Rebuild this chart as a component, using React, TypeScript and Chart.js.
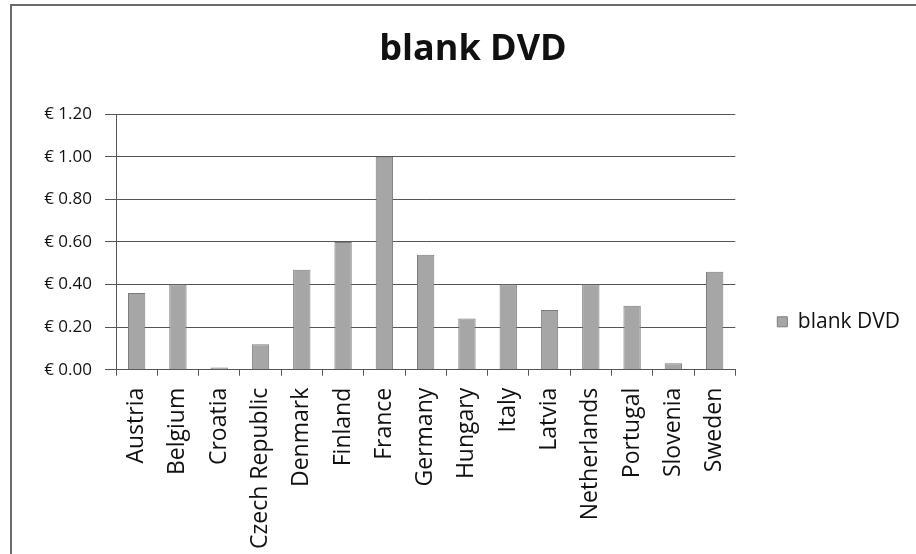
import React, { useEffect, useRef } from "react";
import { Chart, registerables } from "chart.js";

Chart.register(...registerables);

const countries = [
  "Austria", "Belgium", "Croatia", "Czech Republic", "Denmark", "Finland", "France",
  "Germany", "Hungary", "Italy", "Latvia", "Netherlands", "Portugal", "Slovenia", "Sweden",
];
const blankDvd = [0.36, 0.40, 0.01, 0.12, 0.47, 0.60, 1.00, 0.54, 0.24, 0.40, 0.28, 0.40, 0.30, 0.03, 0.46];
const seriesName = "blank DVD";
const chartTitle = "blank DVD";
const yMin = 0;
const yMax = 1.2;
const yStep = 0.2;

export default function App() {
  const ref = useRef<HTMLCanvasElement | null>(null);

  useEffect(() => {
    document.body.style.margin = "0";
    const ctx = ref.current!.getContext("2d")!;
    const axisColor = "#555555";
    const chart = new Chart(ctx, {
      type: "bar",
      data: {
        labels: countries,
        datasets: [
          {
            label: seriesName,
            data: blankDvd,
            backgroundColor: "#a6a6a6",
            borderColor: "#7c7c7c",
            borderWidth: 1,
            categoryPercentage: 1,
            barPercentage: 0.42,
            yAxisID: "y",
          },
        ],
      },
      options: {
        animation: false,
        responsive: false,
        maintainAspectRatio: false,
        layout: { padding: { left: 36, right: 6, top: 0, bottom: 0 } },
        plugins: {
          title: {
            display: true,
            text: chartTitle,
            color: "#111",
            font: { family: "Open Sans", size: 36, weight: "bold" },
            padding: { top: 28, bottom: 43 },
          },
          legend: {
            position: "right",
            align: "center",
            title: {
              display: true,
              text: " ",
              font: { size: 8 },
              padding: { top: 80, bottom: 0 },
            },
            labels: {
              boxWidth: 10,
              boxHeight: 10,
              padding: 10,
              color: "#111",
              font: { family: "Open Sans", size: 21 },
            },
          },
          tooltip: { enabled: false },
        },
        scales: {
          x: {
            grid: {
              display: true,
              drawOnChartArea: false,
              drawTicks: true,
              tickLength: 6,
              offset: true,
              color: axisColor,
            },
            border: { display: true, color: axisColor, width: 1 },
            ticks: {
              minRotation: 90,
              maxRotation: 90,
              autoSkip: false,
              padding: 12,
              color: "#111",
              font: { family: "Open Sans", size: 23 },
            },
            afterFit: (scale: any) => {
              scale.height = scale.height - 7;
            },
          },
          y: {
            min: yMin,
            max: yMax,
            grid: {
              color: axisColor,
              lineWidth: 1,
              drawTicks: true,
              tickLength: 11,
            },
            border: { display: true, color: axisColor, width: 1 },
            ticks: {
              stepSize: yStep,
              padding: 13,
              color: "#111",
              font: { family: "Open Sans", size: 17 },
              callback: (v: any) => "€ " + Number(v).toFixed(2),
            },
            afterFit: (scale: any) => {
              scale.width = 80;
            },
          },
          y2: {
            position: "right",
            display: true,
            grid: { display: false, drawTicks: false },
            border: { display: false },
            ticks: { display: false },
            afterFit: (scale: any) => {
              scale.width = 32;
            },
          },
        },
      },
    });
    return () => chart.destroy();
  }, []);

  return (
    <div style={{ position: "absolute", left: 0, top: 0, width: 916, height: 554, background: "#fff" }}>
      <div
        style={{
          position: "absolute",
          left: 10,
          top: 4,
          right: 0,
          bottom: 0,
          borderLeft: "2px solid #6a6a6a",
          borderTop: "2px solid #6a6a6a",
        }}
      />
      <canvas ref={ref} width={916} height={554} style={{ position: "absolute", left: 0, top: 0 }} />
    </div>
  );
}
